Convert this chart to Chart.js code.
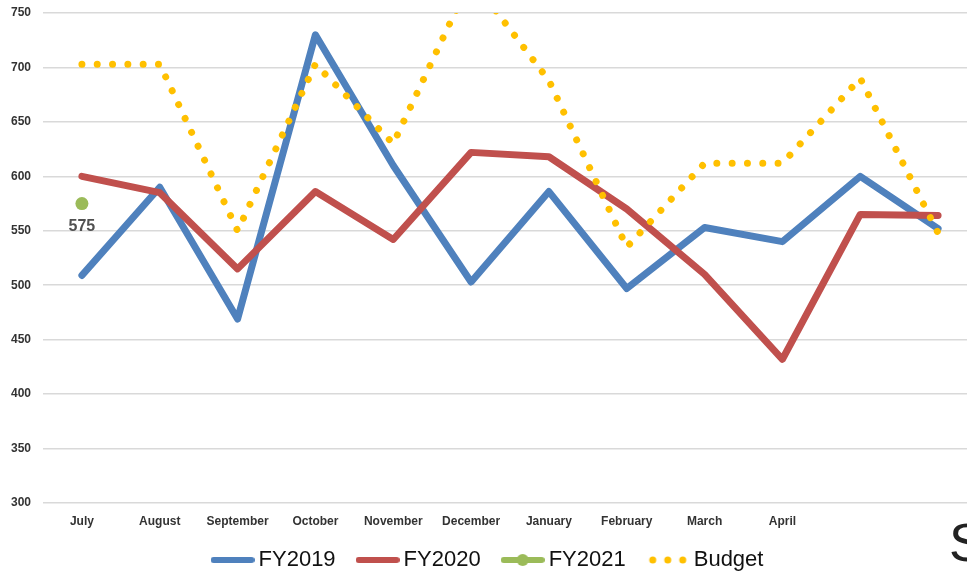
<!DOCTYPE html>
<html>
<head>
<meta charset="utf-8">
<script src="https://cdn.jsdelivr.net/npm/chart.js@4.4.0/dist/chart.umd.min.js"></script>
<style>
  html, body { margin: 0; padding: 0; background: #fff; overflow: hidden; }
  #wrap { width: 1000px; height: 574px; position: relative; }
</style>
</head>
<body>
<div id="wrap"><canvas id="chart-1"></canvas></div>
<script>
/************************ data *********************************/

const months = ["July", "August", "September", "October", "November", "December",
  "January", "February", "March", "April", "", ""];
const fy2019 = [509, 590, 469, 730, 610, 503, 586, 497, 553, 540, 600, 552];
const fy2020 = [600, 585, 515, 586, 542, 622, 618, 570, 510, 432, 565, 564];
const fy2021 = [575, null, null, null, null, null, null, null, null, null, null, null];
const budget = [703, 703, 550, 703, 630, 782, 688, 535, 612, 612, 690, 548];
const yTicks = { min: 300, max: 750, step: 50 };

/************************ legend symbols ***************************/

function makeSymbol(kind, color) {
  const c = document.createElement("canvas");
  c.width = 44; c.height = 14;
  const g = c.getContext("2d");
  g.strokeStyle = color; g.fillStyle = color;
  if (kind === "dots") {
    [7, 22, 37].forEach(function (x) {
      g.beginPath(); g.arc(x, 7, 3.5, 0, Math.PI * 2); g.fill();
    });
  } else {
    g.lineWidth = 6; g.lineCap = "round";
    g.beginPath(); g.moveTo(3, 7); g.lineTo(41, 7); g.stroke();
    if (kind === "marker") {
      g.beginPath(); g.arc(22, 7, 6, 0, Math.PI * 2); g.fill();
    }
  }
  return c;
}

// custom legend + data label + the cut-off letter at the right
const extras = {
  id: "extras",
  afterDraw(chart) {
    const ctx = chart.ctx;
    ctx.save();
    // data label for FY2021
    const meta = chart.getDatasetMeta(2);
    const pt = meta.data[0];
    ctx.font = "bold 16px 'Liberation Sans', Arial, sans-serif";
    ctx.fillStyle = "#505050";
    ctx.textAlign = "center";
    ctx.textBaseline = "middle";
    ctx.fillText(String(fy2021[0]), pt.x, pt.y + 23);

    // legend
    ctx.font = "22px 'Liberation Sans', Arial, sans-serif";
    ctx.textAlign = "left";
    ctx.fillStyle = "#111";
    const items = chart.data.datasets.map(function (ds) {
      return { text: ds.label, sym: ds.legendSymbol, w: ctx.measureText(ds.label).width };
    });
    let total = 0;
    items.forEach(function (it, i) { total += 44 + 4 + it.w + (i ? 20 : 0); });
    let x = 487 - total / 2;
    const y = 560;
    items.forEach(function (it) {
      ctx.drawImage(it.sym, x, y - 7);
      x += 48;
      ctx.fillText(it.text, x, y);
      x += it.w + 20;
    });

    // cut-off title letter
    ctx.font = "54px 'Liberation Sans', Arial, sans-serif";
    ctx.fillStyle = "#222";
    ctx.textBaseline = "alphabetic";
    ctx.fillText("S", 949, 561);
    ctx.restore();
  }
};

/************************* chart ******************************/

const ctx1 = document.getElementById("chart-1").getContext("2d");
const myChart1 = new Chart(ctx1, {
  type: "line",
  data: {
    labels: months,
    datasets: [
      {
        label: "FY2019",
        data: fy2019,
        borderColor: "#4F81BD",
        borderWidth: 7,
        borderCapStyle: "round",
        borderJoinStyle: "round",
        pointRadius: 0,
        order: 4,
        legendSymbol: makeSymbol("line", "#4F81BD"),
      },
      {
        label: "FY2020",
        data: fy2020,
        borderColor: "#C0504D",
        borderWidth: 7,
        borderCapStyle: "round",
        borderJoinStyle: "round",
        pointRadius: 0,
        order: 3,
        legendSymbol: makeSymbol("line", "#C0504D"),
      },
      {
        label: "FY2021",
        data: fy2021,
        borderColor: "#9BBB59",
        backgroundColor: "#9BBB59",
        borderWidth: 7,
        pointRadius: 6.5,
        pointBorderWidth: 0,
        order: 2,
        legendSymbol: makeSymbol("marker", "#9BBB59"),
      },
      {
        label: "Budget",
        data: budget,
        borderColor: "#FFC000",
        borderWidth: 7,
        borderCapStyle: "round",
        borderDash: [0.01, 15.3],
        pointRadius: 0,
        order: 1,
        legendSymbol: makeSymbol("dots", "#FFC000"),
      },
    ],
  },
  options: {
    responsive: true,
    maintainAspectRatio: false,
    animation: false,
    layout: {
      padding: { top: 13, right: 23, left: 0, bottom: 0 },
    },
    plugins: {
      legend: { display: false },
      tooltip: { enabled: false },
    },
    scales: {
      x: {
        offset: true,
        grid: { display: false, drawTicks: false },
        border: { display: false },
        ticks: {
          autoSkip: false,
          maxRotation: 0,
          padding: 11,
          color: "#333",
          font: { family: "'Liberation Sans', Arial, sans-serif", size: 12, weight: "bold" },
        },
        afterFit(scale) { scale.height = 71; },
      },
      y: {
        min: yTicks.min,
        max: yTicks.max,
        grid: { color: "#d9d9d9", lineWidth: 1.5, drawTicks: false },
        border: { display: false },
        ticks: {
          stepSize: yTicks.step,
          padding: 12,
          color: "#333",
          font: { family: "'Liberation Sans', Arial, sans-serif", size: 12, weight: "bold" },
        },
        afterFit(scale) {
          scale.width = 43;
          scale.paddingTop = 0;
          scale.paddingBottom = 0;
        },
      },
    },
  },
  plugins: [extras],
});
</script>
</body>
</html>
